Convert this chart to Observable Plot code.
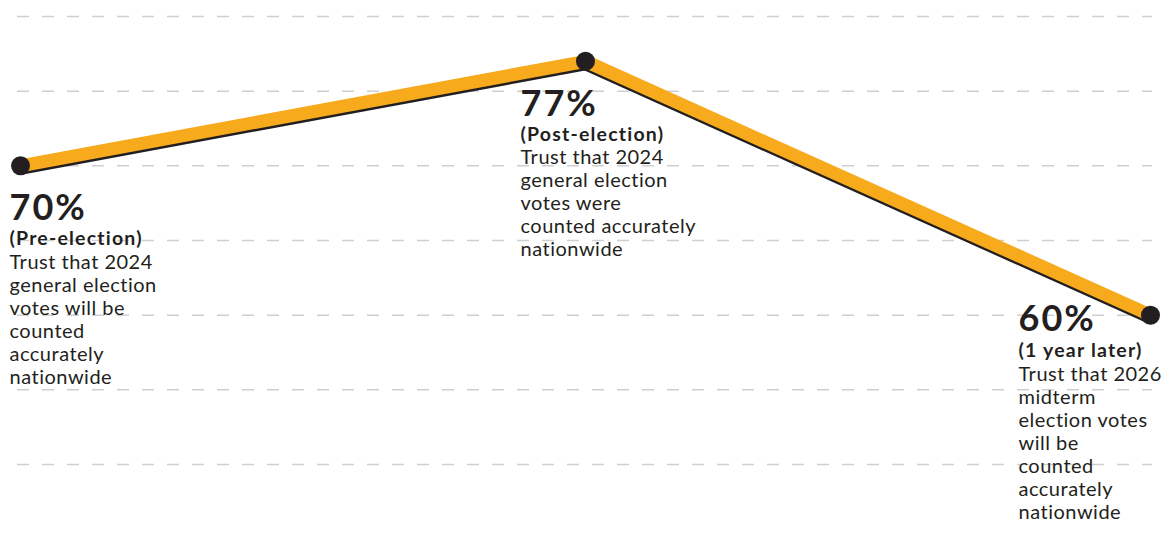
<!DOCTYPE html>
<html><head><meta charset="utf-8">
<script src="https://cdn.jsdelivr.net/npm/d3@7"></script>
<script src="https://cdn.jsdelivr.net/npm/@observablehq/plot@0.6"></script>
<style>html,body{margin:0;padding:0;background:#fff;}</style>
</head><body><div id="chart"></div>
<script>
const periods = ["Pre-election", "Post-election", "1 year later"];
const trust = [70, 77, 60];
const percentLabels = ["70%", "77%", "60%"];
const subLabels = ["(Pre-election)", "(Post-election)", "(1 year later)"];
const descriptions = [
  "Trust that 2024\ngeneral election\nvotes will be\ncounted\naccurately\nnationwide",
  "Trust that 2024\ngeneral election\nvotes were\ncounted accurately\nnationwide",
  "Trust that 2026\nmidterm\nelection votes\nwill be\ncounted\naccurately\nnationwide"
];
const gridValues = [80, 75, 70, 65, 60, 55, 50];

const data = periods.map((p, i) => ({period: p, value: trust[i], pct: percentLabels[i], sub: subLabels[i], desc: descriptions[i]}));

const ink = "#231f20";
const font = "Lato";

function labelMarks(i, dx, dyPct, dySub, dyDesc) {
  const d = [data[i]];
  const common = {x: "period", y: "value", dx, textAnchor: "start", fill: ink, fontFamily: font};
  return [
    Plot.text(d, {...common, text: "pct", dy: dyPct, lineAnchor: "bottom", fontSize: 36, fontWeight: 700}),
    Plot.text(d, {...common, text: "sub", dy: dySub, lineAnchor: "bottom", fontSize: 19.5, fontWeight: 700}),
    Plot.text(d, {...common, text: "desc", dy: dyDesc, lineAnchor: "top", fontSize: 20, lineHeight: 1.15})
  ];
}

const chart = Plot.plot({
  width: 1168,
  height: 536,
  marginTop: 16,
  marginBottom: 72,
  marginLeft: 19,
  marginRight: 18,
  x: {type: "point", domain: periods, padding: 0, axis: null},
  y: {domain: [50, 80], axis: null},
  marks: [
    Plot.ruleY(gridValues, {stroke: "#cfcfcf", strokeWidth: 1.5, strokeDasharray: "12,13", insetLeft: -2, insetRight: -2}),
    Plot.line(data, {x: "period", y: "value", stroke: ink, strokeWidth: 13, dy: 2.5, strokeLinejoin: "round"}),
    Plot.line(data, {x: "period", y: "value", stroke: "#f7aa1c", strokeWidth: 13, strokeLinejoin: "round"}),
    Plot.dot(data, {x: "period", y: "value", r: 9.5, fill: ink}),
    ...labelMarks(0, -11, 54, 79, 86.5),
    ...labelMarks(1, -65, 55, 80, 86.5),
    ...labelMarks(2, -132, 16, 42, 49.5)
  ]
});

// widen the lettering a little to approach the reference typeface
d3.select(chart).selectAll("g[aria-label='text']").each(function () {
  const g = d3.select(this);
  const size = +g.attr("font-size");
  const bold = g.attr("font-weight") == 700 || g.attr("font-weight") === "bold";
  g.attr("letter-spacing", size > 30 ? 2 : bold ? 1.2 : 0.5);
});

document.getElementById("chart").appendChild(chart);
</script>
</body></html>
